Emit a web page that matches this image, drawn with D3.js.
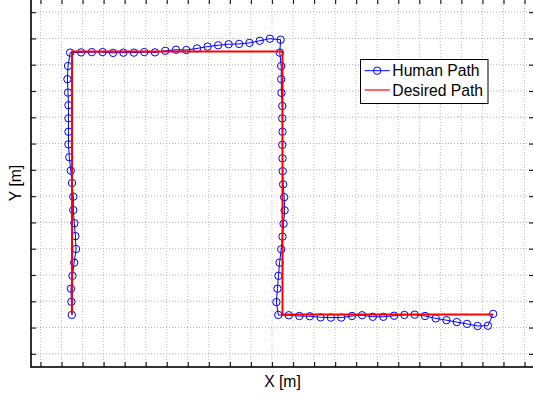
<!DOCTYPE html>
<html>
<head>
<meta charset="utf-8">
<script src="https://cdn.jsdelivr.net/npm/d3@7/dist/d3.min.js"></script>
<style>
html,body{margin:0;padding:0;background:#fff;}
svg{display:block;font-family:"Liberation Sans",Arial,Helvetica,sans-serif;}
</style>
</head>
<body>
<svg id="chart" width="533" height="398"></svg>
<script>
// ---- data ----
const xTicks = d3.range(0, 24);
const yTicks = d3.range(0, 14);

const humanX = [
  1.49,1.47,1.45,1.52,1.60,1.69,1.66,1.61,1.56,1.56,1.50,1.44,1.37,1.33,1.33,1.33,1.33,1.31,1.28,1.31,1.41,
  1.93,2.44,2.95,3.45,3.94,4.44,4.93,5.44,5.93,6.44,6.93,7.44,7.94,8.44,8.94,9.44,9.93,10.42,10.90,11.41,
  11.37,11.44,11.44,11.45,11.49,11.49,11.50,11.49,11.50,11.51,11.53,11.58,11.60,11.55,11.50,11.44,11.36,11.31,11.26,11.21,11.30,
  11.80,12.30,12.80,13.31,13.80,14.29,14.80,15.28,15.79,16.29,16.80,17.29,17.78,18.27,18.78,19.29,19.78,20.27,20.77,21.26,21.51
];
const humanY = [
  1.48,1.98,2.48,2.97,3.47,3.99,4.48,4.97,5.47,5.98,6.50,6.97,7.48,7.97,8.45,8.96,9.46,9.94,10.45,10.95,11.46,
  11.47,11.48,11.48,11.45,11.46,11.46,11.48,11.47,11.53,11.57,11.56,11.62,11.69,11.74,11.78,11.79,11.83,11.91,11.99,11.95,
  11.46,10.95,10.45,9.93,9.43,8.96,8.45,7.95,7.44,6.95,6.45,5.96,5.46,4.95,4.46,3.98,3.47,2.97,2.48,1.97,1.48,
  1.47,1.44,1.43,1.39,1.38,1.38,1.44,1.47,1.41,1.41,1.45,1.48,1.49,1.44,1.35,1.28,1.21,1.14,1.06,1.07,1.52
];

const desiredX = [1.5, 1.5, 11.5, 11.5, 21.5];
const desiredY = [1.5, 11.5, 11.5, 1.5, 1.5];

const seriesNames = ["Human Path", "Desired Path"];
const xLabel = "X [m]";
const yLabel = "Y [m]";

// ---- layout ----
const svg = d3.select("#chart");
const L = 31, R = 534, T = -1, B = 367;
const x = d3.scaleLinear().domain([-0.45, 23.45]).range([L, R]);
const y = d3.scaleLinear().domain([-0.5, 13.5]).range([B, T]);

const human = humanX.map((v, i) => [v, humanY[i]]);
const desired = desiredX.map((v, i) => [v, desiredY[i]]);

// grid
const grid = svg.append("g");
grid.selectAll(".gx").data(xTicks).enter().append("line")
  .attr("x1", d => x(d)).attr("x2", d => x(d))
  .attr("y1", T).attr("y2", B)
  .attr("stroke", "#bdbdbd").attr("stroke-width", 1)
  .attr("stroke-dasharray", "1,2");
grid.selectAll(".gy").data(yTicks).enter().append("line")
  .attr("y1", d => y(d)).attr("y2", d => y(d))
  .attr("x1", L).attr("x2", R)
  .attr("stroke", "#b0b0b0").attr("stroke-width", 1)
  .attr("stroke-dasharray", "1,2");

// ticks (inward, all four sides)
function tickAxis(axis, transform) {
  const g = svg.append("g").attr("transform", transform).call(axis);
  g.select(".domain").remove();
  g.selectAll(".tick line").attr("stroke", "#222").attr("stroke-width", 1.2);
  g.selectAll("text").remove();
}
tickAxis(d3.axisBottom(x).tickValues(xTicks).tickSize(-5).tickFormat(""), `translate(0,${B})`);
tickAxis(d3.axisTop(x).tickValues(xTicks).tickSize(-5).tickFormat(""), `translate(0,${T})`);
tickAxis(d3.axisLeft(y).tickValues(yTicks).tickSize(-5).tickFormat(""), `translate(${L},0)`);
tickAxis(d3.axisRight(y).tickValues(yTicks).tickSize(-5).tickFormat(""), `translate(${R},0)`);

// axis box
svg.append("rect").attr("x", L).attr("y", T).attr("width", R - L).attr("height", B - T)
  .attr("fill", "none").attr("stroke", "#000").attr("stroke-width", 1.6);

const line = d3.line().x(d => x(d[0])).y(d => y(d[1]));

// human path
svg.append("path").datum(human).attr("d", line)
  .attr("fill", "none").attr("stroke", "#0000ff").attr("stroke-width", 1);
svg.selectAll(".hm").data(human).enter().append("circle")
  .attr("cx", d => x(d[0])).attr("cy", d => y(d[1])).attr("r", 3.7)
  .attr("fill", "none").attr("stroke", "#0000ff").attr("stroke-width", 1);

// desired path
svg.append("path").datum(desired).attr("d", line)
  .attr("fill", "none").attr("stroke", "#ff0000").attr("stroke-width", 2);

// legend
const lg = svg.append("g");
lg.append("rect").attr("x", 360.5).attr("y", 59.5).attr("width", 127.5).attr("height", 44)
  .attr("fill", "#fff").attr("stroke", "#000").attr("stroke-width", 1);
const rows = [70.7, 90];
lg.append("line").attr("x1", 364.7).attr("x2", 389.7).attr("y1", rows[0]).attr("y2", rows[0])
  .attr("stroke", "#0000ff").attr("stroke-width", 1);
lg.append("circle").attr("cx", 377.2).attr("cy", rows[0]).attr("r", 3.7)
  .attr("fill", "none").attr("stroke", "#0000ff").attr("stroke-width", 1);
lg.append("line").attr("x1", 364.7).attr("x2", 389.7).attr("y1", rows[1]).attr("y2", rows[1])
  .attr("stroke", "#ff0000").attr("stroke-width", 1.2);
seriesNames.forEach((n, i) => {
  lg.append("text").attr("x", 392.3).attr("y", rows[i] + 5.6)
    .attr("font-size", "15.7px").attr("fill", "#000").text(n);
});

// axis labels
svg.append("text").attr("x", (L + R) / 2).attr("y", 387)
  .attr("text-anchor", "middle").attr("font-size", "15.7px").attr("fill", "#000").text(xLabel);
svg.append("text").attr("transform", `translate(21.2,${(T + B) / 2}) rotate(-90)`)
  .attr("text-anchor", "middle").attr("font-size", "15.7px").attr("fill", "#000").text(yLabel);
</script>
</body>
</html>
